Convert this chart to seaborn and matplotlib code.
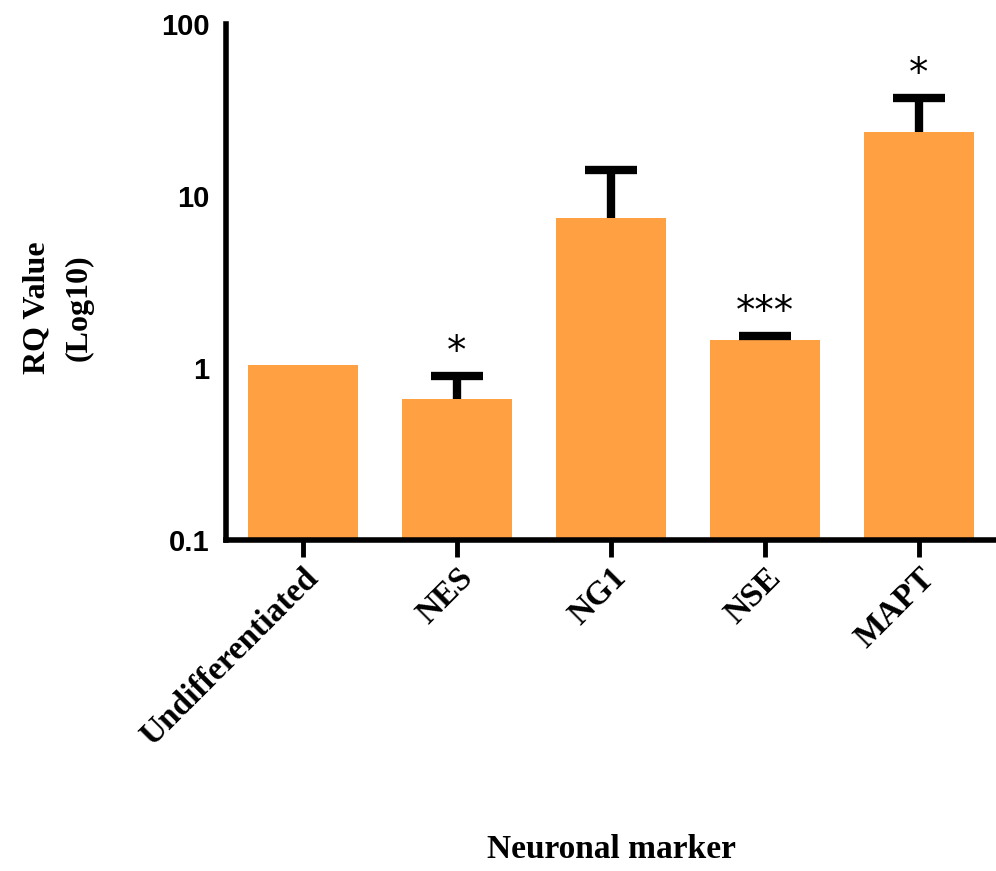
import matplotlib
matplotlib.use("Agg")
import matplotlib.pyplot as plt
import seaborn as sns
import numpy as np

# Datos
marcadores = ["Undifferentiated", "NES", "NG1", "NSE", "MAPT"]
valores = [1.04, 0.66, 7.4, 1.45, 23.6]
error_sup = [None, 0.90, 14.2, 1.53, 37.0]
estrellas = ["", "*", "", "***", "*"]

naranja = "#FFA142"

sns.set_theme(style="white")
plt.rcParams["font.family"] = ["Liberation Serif", "DejaVu Serif"]
plt.rcParams["text.color"] = "black"
plt.rcParams["axes.labelcolor"] = "black"
plt.rcParams["xtick.color"] = "black"
plt.rcParams["ytick.color"] = "black"

fig = plt.figure(figsize=(9.96, 8.71), dpi=100)
ax = fig.add_axes([226 / 996, 1 - 540 / 871, 1 - 226 / 996, (540 - 24) / 871])

sns.barplot(x=marcadores, y=valores, color=naranja, saturation=1, width=0.72,
            edgecolor="none", ax=ax, zorder=2)
ax.set_yscale("log")
ax.set_ylim(0.1, 100)
ax.set_xlim(-0.5, 4.5)

# Barras de error (solo hacia arriba)
idx = [i for i, e in enumerate(error_sup) if e is not None]
ys = np.array([valores[i] for i in idx])
es = np.array([error_sup[i] for i in idx])
eb = ax.errorbar(idx, ys, yerr=[np.zeros_like(ys), es - ys], fmt="none",
                 ecolor="black", elinewidth=6, capsize=18.5, capthick=6, zorder=3)
# ocultar el cap inferior
eb[1][0].set_visible(False)

# Asteriscos de significancia
for i, s in enumerate(estrellas):
    if s:
        ax.text(i, error_sup[i] * 1.07, s, ha="center", va="bottom",
                fontsize=28, color="black", family="DejaVu Sans")

ax.set_yticks([0.1, 1, 10, 100])
ax.set_yticklabels(["0.1", "1", "10", "100"], family="Liberation Sans",
                   fontweight="bold", fontsize=21)
ax.yaxis.set_minor_locator(matplotlib.ticker.NullLocator())
ax.tick_params(axis="y", length=0, pad=12)
ax.tick_params(axis="x", length=12, width=3.5, color="black", direction="out",
               bottom=True, pad=4)
ax.set_xticks(range(len(marcadores)))
ax.set_xticklabels(marcadores, rotation=45, ha="right", rotation_mode="anchor",
                   fontweight="bold", fontsize=24)

for lado in ["top", "right"]:
    ax.spines[lado].set_visible(False)
for lado in ["left", "bottom"]:
    ax.spines[lado].set_linewidth(4)
    ax.spines[lado].set_color("black")

ax.set_ylabel("RQ Value\n(Log10)", fontweight="bold", fontsize=23, linespacing=1.6)
ax.yaxis.set_label_coords(-0.172, 0.45)
ax.set_xlabel("Neuronal marker", fontweight="bold", fontsize=24)
ax.xaxis.set_label_coords(0.5, -0.57)

fig.savefig("out.png", dpi=100, facecolor="white")
